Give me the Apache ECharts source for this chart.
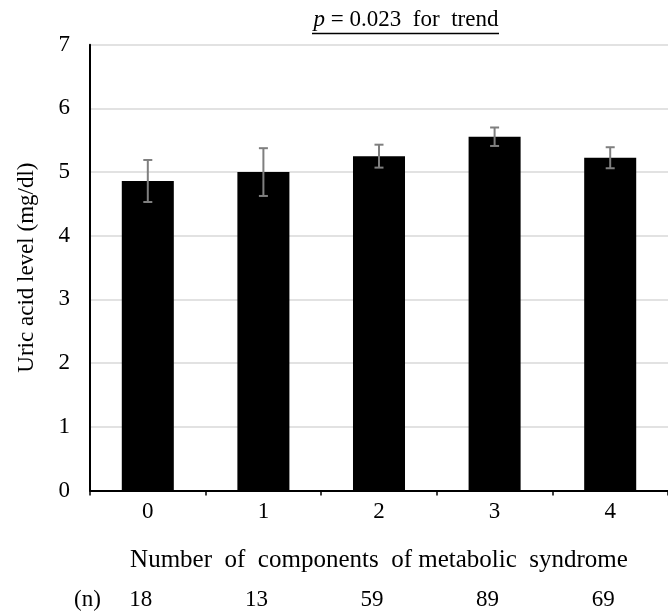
<!DOCTYPE html>
<html>
<head>
<meta charset="utf-8">
<script src="https://cdn.jsdelivr.net/npm/echarts@6/dist/echarts.min.js"></script>
<style>
html,body{margin:0;padding:0;background:#fff;}
#chart{width:668px;height:614px;}
</style>
</head>
<body>
<div id="chart"></div>
<script>
var categories = ['0', '1', '2', '3', '4'];
var uricMeans = [4.86, 5.0, 5.25, 5.555, 5.225];
var uricErrors = [0.33, 0.375, 0.18, 0.145, 0.165];
var nCounts = ['18', '13', '59', '89', '69'];
var yTicks = [0, 1, 2, 3, 4, 5, 6, 7];

var FONT = '"Liberation Serif", "Times New Roman", serif';

var errData = [];
for (var i = 0; i < categories.length; i++) {
	errData.push([i, uricMeans[i] - uricErrors[i], uricMeans[i] + uricErrors[i]]);
}

var chart = echarts.init(document.getElementById('chart'), null, {renderer: 'canvas'});

var option = {
	backgroundColor: '#fff',
	animation: false,
	grid: {left: 90, right: -7, top: 44.7, bottom: 123.5, containLabel: false},
	xAxis: [{
		type: 'category',
		data: categories,
		axisLine: {show: true, lineStyle: {color: '#000', width: 2}},
		axisTick: {show: true, length: 5, lineStyle: {color: '#000', width: 1.5}},
		axisLabel: {color: '#000', fontFamily: FONT, fontSize: 23, margin: 10},
		name: 'Number  of  components  of metabolic  syndrome',
		nameLocation: 'middle',
		nameGap: 57,
		nameTextStyle: {color: '#000', fontFamily: FONT, fontSize: 25}
	}, {
		type: 'category',
		data: nCounts,
		position: 'bottom',
		offset: 98,
		axisLine: {show: false},
		axisTick: {show: false},
		axisLabel: {color: '#000', fontFamily: FONT, fontSize: 23, margin: 0, padding: [0, 14, 0, 0]}
	}],
	yAxis: {
		type: 'value',
		min: yTicks[0],
		max: yTicks[yTicks.length - 1],
		interval: 1,
		axisLine: {show: true, lineStyle: {color: '#000', width: 2}},
		axisTick: {show: false},
		splitLine: {show: true, lineStyle: {color: '#d9d9d9', width: 1.5}},
		axisLabel: {color: '#000', fontFamily: FONT, fontSize: 23, margin: 20},
		name: 'Uric acid level (mg/dl)',
		nameLocation: 'middle',
		nameGap: 52,
		nameTextStyle: {color: '#000', fontFamily: FONT, fontSize: 23}
	},
	graphic: [{
		type: 'text',
		left: 74,
		top: 588,
		style: {text: '(n)', fill: '#000', font: '23px ' + FONT}
	}, {
		type: 'text',
		x: 406,
		y: 20,
		style: {
			text: '{i|p} = 0.023  for  trend',
			fill: '#000',
			align: 'center',
			verticalAlign: 'middle',
			font: '23px ' + FONT,
			rich: {i: {fontStyle: 'italic', fontFamily: FONT, fontSize: 23}}
		}
	}, {
		type: 'line',
		shape: {x1: 312, y1: 33.5, x2: 499, y2: 33.5},
		style: {stroke: '#000', lineWidth: 1.5}
	}],
	series: [{
		type: 'bar',
		data: uricMeans,
		barWidth: '45%',
		itemStyle: {color: '#000'}
	}, {
		type: 'custom',
		data: errData,
		z: 10,
		renderItem: function(params, api) {
			var x = api.value(0);
			var lo = api.coord([x, api.value(1)]);
			var hi = api.coord([x, api.value(2)]);
			var cap = 4.5;
			var st = {stroke: '#7f7f7f', lineWidth: 2};
			return {
				type: 'group',
				children: [
					{type: 'line', shape: {x1: lo[0], y1: lo[1], x2: hi[0], y2: hi[1]}, style: st},
					{type: 'line', shape: {x1: hi[0] - cap, y1: hi[1], x2: hi[0] + cap, y2: hi[1]}, style: st},
					{type: 'line', shape: {x1: lo[0] - cap, y1: lo[1], x2: lo[0] + cap, y2: lo[1]}, style: st}
				]
			};
		}
	}]
};

chart.setOption(option);
</script>
</body>
</html>
